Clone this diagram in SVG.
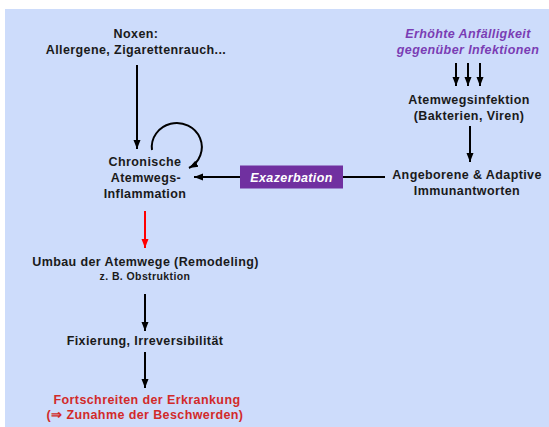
<svg xmlns="http://www.w3.org/2000/svg" width="549" height="427" viewBox="0 0 549 427">
<defs>
<style>
text{font-family:"Liberation Sans",Arial,sans-serif;font-weight:bold;font-size:12.5px;text-anchor:middle;fill:#1a1a1a;letter-spacing:0.4px}
.small{font-size:10.5px}
.purple{fill:#7a3cb4;font-style:italic}
.red{fill:#d22a2a}
.white{fill:#ffffff;font-style:italic}
.conn{stroke:#000;stroke-width:2;fill:none}
.redc{stroke:#ff0000;stroke-width:2;fill:none}
</style>
<marker id="ah" markerUnits="userSpaceOnUse" markerWidth="10" markerHeight="10" viewBox="0 0 10 10" refX="9" refY="5" orient="auto">
<path d="M0,1.5 L9,5 L0,8.5 Z" fill="#000"/>
</marker>
<marker id="ahr" markerUnits="userSpaceOnUse" markerWidth="10" markerHeight="10" viewBox="0 0 10 10" refX="9" refY="5" orient="auto">
<path d="M0,1.5 L9,5 L0,8.5 Z" fill="#ff0000"/>
</marker>
</defs>
<rect x="5" y="9" width="544" height="418" fill="#cddcfb"/>
<g id="connectors">
<line class="conn" x1="137" y1="65" x2="137" y2="149" marker-end="url(#ah)"/>
<path class="conn" d="M152,150 A25,24 0 1 1 189,168" marker-end="url(#ah)"/>
<line class="conn" x1="456" y1="63" x2="456" y2="86" marker-end="url(#ah)"/>
<line class="conn" x1="468" y1="63" x2="468" y2="86" marker-end="url(#ah)"/>
<line class="conn" x1="480" y1="63" x2="480" y2="86" marker-end="url(#ah)"/>
<line class="conn" x1="470" y1="126" x2="470" y2="162" marker-end="url(#ah)"/>
<line class="conn" x1="385" y1="177" x2="194" y2="177" marker-end="url(#ah)"/>
<line class="redc" x1="145" y1="211" x2="145" y2="248" marker-end="url(#ahr)"/>
<line class="conn" x1="145" y1="294" x2="145" y2="331" marker-end="url(#ah)"/>
<line class="conn" x1="145" y1="352" x2="145" y2="388" marker-end="url(#ah)"/>
</g>
<g id="exazerbation">
<rect x="240" y="165.5" width="103" height="23" fill="#7030a0"/>
<text class="white" x="291.5" y="181.5">Exazerbation</text>
</g>
<g id="noxen">
<text x="136" y="37.5">Noxen:</text>
<text x="136" y="53.5">Allergene, Zigarettenrauch...</text>
</g>
<g id="anfaelligkeit">
<text class="purple" x="468" y="37.5">Erhöhte Anfälligkeit</text>
<text class="purple" x="468" y="53.5">gegenüber Infektionen</text>
</g>
<g id="atemwegsinfektion">
<text x="469" y="104">Atemwegsinfektion</text>
<text x="469" y="120">(Bakterien, Viren)</text>
</g>
<g id="inflammation">
<text x="145" y="166">Chronische</text>
<text x="146" y="182">Atemwegs-</text>
<text x="145" y="198">Inflammation</text>
</g>
<g id="immunantworten">
<text x="467" y="178.5">Angeborene &amp; Adaptive</text>
<text x="467" y="195">Immunantworten</text>
</g>
<g id="remodeling">
<text x="145.5" y="266">Umbau der Atemwege (Remodeling)</text>
<text class="small" x="145" y="280">z. B. Obstruktion</text>
</g>
<g id="fixierung">
<text x="145" y="345">Fixierung, Irreversibilität</text>
</g>
<g id="fortschreiten">
<text class="red" x="147" y="404">Fortschreiten der Erkrankung</text>
<text class="red" x="145" y="419">(⇒ Zunahme der Beschwerden)</text>
</g>
</svg>
